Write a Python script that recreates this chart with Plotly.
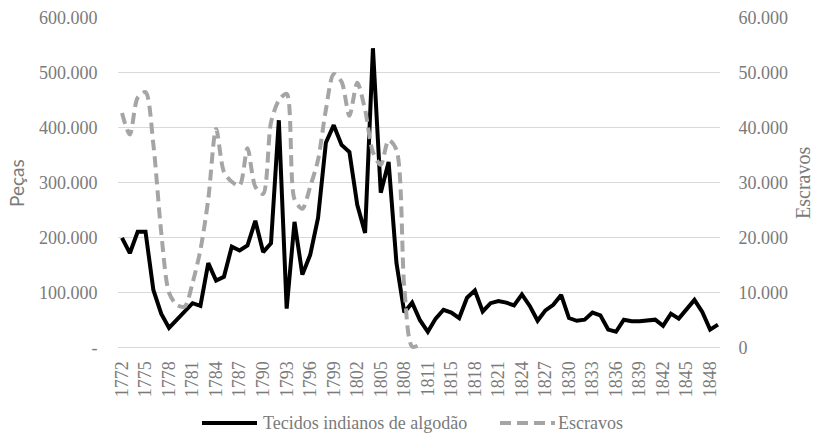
import plotly.graph_objects as go

# Years (one year between 1811 and 1815 is absent from the series)
years = [str(y) for y in range(1772, 1812)] + ["1813", "1814"] + [str(y) for y in range(1815, 1850)]

tecidos = [
    200000, 172000, 211000, 211000, 105000, 62000, 36000, 51000, 66000, 81000,
    76000, 154000, 122000, 129000, 184000, 177000, 186000, 231000, 174000, 190000,
    414000, 71000, 229000, 133000, 169000, 236000, 373000, 405000, 369000, 356000,
    260000, 209000, 545000, 282000, 338000, 154000, 64000, 82000, 50000, 29000,
    53000, 69000, 64000, 54000, 91000, 104000, 66000, 81000, 85000, 82000,
    77000, 97000, 76000, 49000, 68000, 78000, 96000, 54000, 49000, 51000,
    64000, 59000, 33000, 29000, 51000, 48000, 48000, 49000, 51000, 40000,
    62000, 53000, 71000, 87000, 65000, 33000, 42000,
]

escravos = [
    42700, 38800, 45500, 46500, 37000, 21000, 10000, 7800, 7500, 11800,
    17800, 27000, 39800, 32000, 30200, 29500, 36300, 29300, 28000, 41000,
    45000, 46200, 27000, 25300, 29300, 34200, 43300, 49800, 48400, 42200,
    48200, 43300, 35600, 33300, 37800, 36000, 11000, 200, 500,
] + [None] * (len(years) - 39)

series_names = ["Tecidos indianos de algodão", "Escravos"]
left_ticks = [0, 100000, 200000, 300000, 400000, 500000, 600000]
left_text = ["-", "100.000", "200.000", "300.000", "400.000", "500.000", "600.000"]
right_ticks = [0, 10000, 20000, 30000, 40000, 50000, 60000]
right_text = ["0", "10.000", "20.000", "30.000", "40.000", "50.000", "60.000"]
x_ticks = years[::3]

SERIF = "Liberation Serif"
GRAY = "#7a7a7a"
BLACK = "#000000"
LGRAY = "#a5a5a5"
DASH = "11px,6px"

# plot area in pixels: x 118..720, y 18..351
L, R, T, B = 118, 720, 18, 351
def px(x):
    return (x - L) / (R - L)
def py(y):
    return (B - y) / (B - T)

fig = go.Figure()
fig.add_trace(go.Scatter(
    x=years, y=tecidos, name=series_names[0], mode="lines",
    line=dict(color=BLACK, width=4), yaxis="y", showlegend=False,
))
fig.add_trace(go.Scatter(
    x=years, y=escravos, name=series_names[1], mode="lines",
    line=dict(color=LGRAY, width=4, dash=DASH, shape="spline", smoothing=0.8),
    yaxis="y2", connectgaps=False, showlegend=False,
))

fig.update_layout(
    width=814, height=433,
    margin=dict(l=L, r=814 - R, t=T, b=433 - B, autoexpand=False),
    paper_bgcolor="white", plot_bgcolor="white",
    font=dict(family=SERIF, size=18, color=GRAY),
    xaxis=dict(
        type="category", range=[-0.51, 76.26], automargin=False,
        tickmode="array", tickvals=x_ticks, ticktext=x_ticks,
        tickangle=-90, ticks="outside", ticklen=2, tickcolor="rgba(0,0,0,0)",
        showgrid=False, zeroline=False, showline=False,
        tickfont=dict(family=SERIF, size=18, color=GRAY),
    ),
    yaxis=dict(
        range=[-6000, 600000], tickmode="array", tickvals=left_ticks, ticktext=left_text,
        automargin=False,
        showgrid=True, gridcolor="#d9d9d9", gridwidth=1, zeroline=False, showline=False,
        ticks="outside", ticklen=16, tickcolor="rgba(0,0,0,0)",
        tickfont=dict(family=SERIF, size=18, color=GRAY),
    ),
    yaxis2=dict(
        range=[-600, 60000], overlaying="y", side="right", automargin=False,
        tickmode="array", tickvals=right_ticks, ticktext=right_text,
        showgrid=False, zeroline=False, showline=False,
        ticks="outside", ticklen=14, tickcolor="rgba(0,0,0,0)",
        tickfont=dict(family=SERIF, size=18, color=GRAY),
    ),
    annotations=[
        dict(text="Peças", xref="paper", yref="paper", x=px(16), y=py(183),
             xanchor="center", yanchor="middle", textangle=-90, showarrow=False,
             font=dict(family="Lato", size=19, color=GRAY)),
        dict(text="Escravos", xref="paper", yref="paper", x=px(803), y=py(183),
             xanchor="center", yanchor="middle", textangle=-90, showarrow=False,
             font=dict(family=SERIF, size=20, color=GRAY)),
        dict(text=series_names[0], xref="paper", yref="paper", x=px(261), y=py(423),
             xanchor="left", yanchor="middle", showarrow=False,
             font=dict(family=SERIF, size=18, color=GRAY)),
        dict(text=series_names[1], xref="paper", yref="paper", x=px(556), y=py(423),
             xanchor="left", yanchor="middle", showarrow=False,
             font=dict(family=SERIF, size=18, color=GRAY)),
    ],
    shapes=[
        dict(type="line", xref="paper", yref="paper", x0=px(202), x1=px(257),
             y0=py(423), y1=py(423), line=dict(color=BLACK, width=4)),
        dict(type="line", xref="paper", yref="paper", x0=px(500), x1=px(555),
             y0=py(423), y1=py(423), line=dict(color=LGRAY, width=4, dash=DASH)),
    ],
)

fig.write_html(
    "out.html",
    config={"displayModeBar": False, "staticPlot": True},
    post_script="document.body.style.margin='0px';document.body.style.overflow='hidden';",
)
